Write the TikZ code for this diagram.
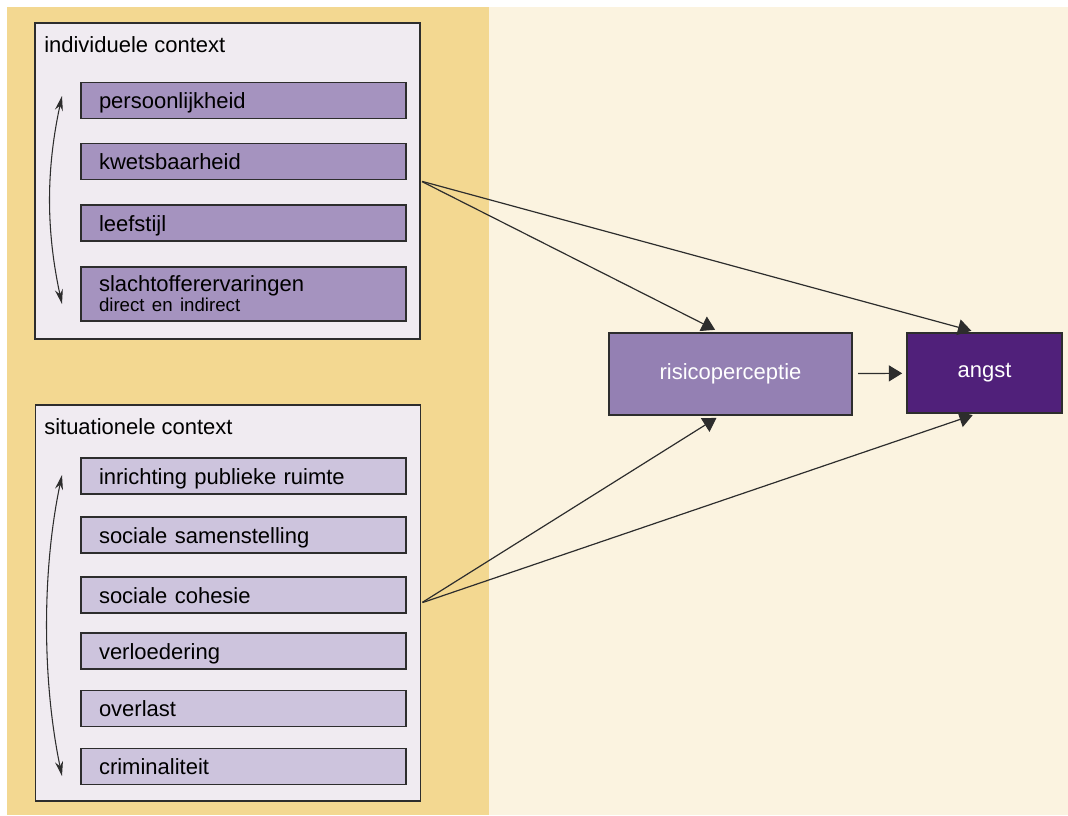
\documentclass[tikz,border=0pt]{standalone}
\usepackage{fontspec}
\setmainfont{Liberation Sans}
\usepackage{tikz}
\usetikzlibrary{arrows.meta,positioning}

\definecolor{tanbg}{RGB}{243,216,145}
\definecolor{creambg}{RGB}{251,243,224}
\definecolor{ctxfill}{RGB}{240,235,241}
\definecolor{indfill}{RGB}{165,147,191}
\definecolor{sitfill}{RGB}{205,196,221}
\definecolor{risfill}{RGB}{148,128,179}
\definecolor{angfill}{RGB}{80,32,122}
\definecolor{edge}{RGB}{45,45,45}

\tikzset{
  ctxbox/.style={draw=edge, line width=1.2pt, fill=ctxfill, minimum width=288.75pt, inner sep=0pt},
  itembox/.style={draw=edge, line width=1.2pt, minimum width=243.75pt, minimum height=27pt,
    text width=216.75pt, inner xsep=13.5pt, inner ysep=0pt, align=left,
    font=\fontsize{16.5}{15}\selectfont},
  oneline/.style={text height=13pt, text depth=1pt},
  indbox/.style={itembox, fill=indfill},
  sitbox/.style={itembox, oneline, fill=sitfill},
  outbox/.style={draw=edge, line width=1.2pt, text=white, font=\fontsize{16.5}{18}\selectfont},
  ctxlabel/.style={anchor=north west, inner sep=0pt, font=\fontsize{16.5}{18}\selectfont},
  link/.style={draw=edge, line width=0.9pt, -{Triangle[width=12pt,length=10pt]}},
  loop/.style={draw=edge, line width=0.8pt, {Stealth[width=6pt,length=11pt]}-{Stealth[width=6pt,length=11pt]}}
}

\begin{document}
\begin{tikzpicture}[x=0.75pt,y=0.75pt,yscale=-1,xscale=1]
\useasboundingbox (0,0) rectangle (1068,815);

% Background
\fill [creambg] (7,7) rectangle (1068,815);
\fill [tanbg] (7,7) rectangle (489,815);

% Context boxes
\node [ctxbox, minimum height=237pt] (ind) at (227.5,181) {};
\node [ctxbox, minimum height=297pt] (sit) at (228,603) {};
\node [ctxlabel] (indlabel) at (44,36) {individuele context};
\node [ctxlabel] (sitlabel) at (44,418) {situationele context};

% Individual factors
\node [indbox, oneline] (pers) at (243.5,100.5) {persoonlijkheid};
\node [indbox, oneline] (kwets) at (243.5,161.5) {kwetsbaarheid};
\node [indbox, oneline] (leef) at (243.5,223) {leefstijl};
\node [indbox, minimum height=40.5pt] (slacht) at (243.5,294) {slachtofferervaringen\\{\fontsize{14}{15}\selectfont direct en indirect}};

% Situational factors
\node [sitbox] (inricht) at (243.5,476) {inrichting publieke ruimte};
\node [sitbox] (samen) at (243.5,535) {sociale samenstelling};
\node [sitbox] (cohesie) at (243.5,595) {sociale cohesie};
\node [sitbox] (verloed) at (243.5,651) {verloedering};
\node [sitbox] (overlast) at (243.5,708.5) {overlast};
\node [sitbox] (crimi) at (243.5,766.5) {criminaliteit};

% Outcomes
\node [outbox, fill=risfill, minimum width=182.25pt, minimum height=61.5pt] (risico) at (730.5,374) {risicoperceptie};
\node [outbox, fill=angfill, minimum width=116.25pt, minimum height=60pt] (angst) at (984.5,373) {angst};

% Mutual influence
\coordinate (indtop) at (62,96);
\coordinate (indbot) at (62,304);
\coordinate (sittop) at (62,475);
\coordinate (sitbot) at (62,776);
\draw [loop] (indtop) .. controls (46,170) and (46,230) .. (indbot);
\draw [loop] (sittop) .. controls (42,570) and (42,680) .. (sitbot);

% Effects
\draw [link, shorten <=1pt, shorten >=4pt] (ind.east) -- ([xshift=-8pt]risico.north);
\draw [link, shorten <=1pt, shorten >=4pt] (ind.east) -- ([xshift=-6pt]angst.north);
\draw [link, shorten <=1pt, shorten >=3pt] (sit.east) -- ([xshift=-8pt]risico.south);
\draw [link, shorten <=1pt, shorten >=3pt] (sit.east) -- ([xshift=-6pt]angst.south);
\draw [link, shorten <=4pt, shorten >=3pt] (risico) -- (angst);

\end{tikzpicture}
\end{document}
